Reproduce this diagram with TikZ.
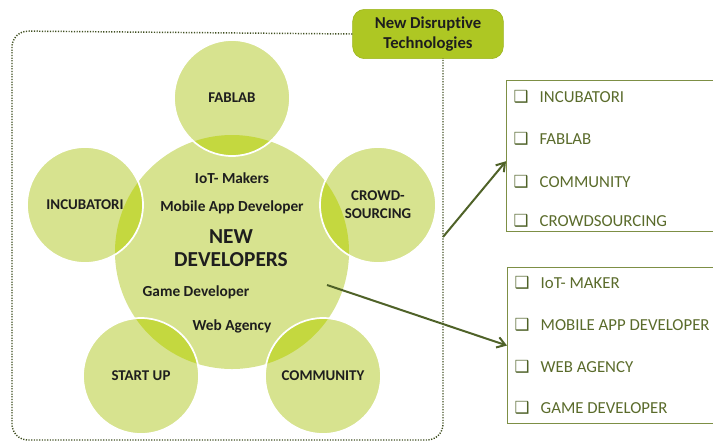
\documentclass[tikz,border=0pt]{standalone}
\usepackage{fontspec}
\setmainfont{Carlito}[RawFeature={-liga;-clig;-calt;-dlig}]
\newfontfamily\boxfont{DejaVu Sans}
\usetikzlibrary{arrows.meta}

\definecolor{leaf}{HTML}{D7E38F}
\definecolor{lens}{HTML}{C4D83F}
\definecolor{lime}{HTML}{AEC723}
\definecolor{limeline}{HTML}{9AB31C}
\definecolor{olive}{HTML}{4F6228}
\definecolor{listline}{HTML}{7D8F45}
\definecolor{listtext}{HTML}{5A6B2B}
\definecolor{ink}{HTML}{1E1E1E}

\tikzset{
  hub/.style={circle, fill=leaf, minimum size=175.5pt, inner sep=0pt},
  bubble/.style={circle, fill=leaf, minimum size=87pt, inner sep=0pt, align=center,
    text=ink, font=\bfseries\fontsize{11.2}{13.5}\selectfont},
  rim/.style={draw=white, line width=1.3pt},
  hubtext/.style={text=ink, font=\bfseries\fontsize{11.5}{13.5}\selectfont},
  frame/.style={draw=olive!80!black, line width=1.1pt, dash pattern=on 0.9pt off 1.1pt, rounded corners=12pt},
  badge/.style={rounded corners=9pt, fill=lime, draw=limeline, minimum width=113pt,
    minimum height=37pt, align=center, text=ink, font=\bfseries\fontsize{12.5}{14.5}\selectfont},
  listbox/.style={draw=listline, line width=0.8pt, minimum width=165pt, minimum height=113pt,
    anchor=north west, inner sep=0pt},
  item/.style={anchor=west, text=listtext, font=\fontsize{12.6}{15}\selectfont},
  tick/.style={anchor=center, text=olive, font=\boxfont\fontsize{12.5}{14}\selectfont},
  link/.style={draw=olive, line width=1.5pt, -{Straight Barb[length=6pt,width=8pt]}}
}

\begin{document}
\begin{tikzpicture}[x=0.75pt, y=-0.75pt]
  \useasboundingbox (0,0) rectangle (713,444);

  % circles
  \node[hub] (hub) at (232,252) {};
  \node[bubble] (fab) at (232,98) {FABLAB};
  \node[bubble] (inc) at (85,205) {INCUBATORI};
  \node[bubble] (crowd) at (378,205) {CROWD-\\SOURCING};
  \node[bubble] (start) at (141,376) {START UP};
  \node[bubble] (comm) at (323,376) {COMMUNITY};

  % overlaps with the middle circle
  \begin{scope}
    \clip (hub.center) circle (87.75pt);
    \foreach \c in {fab,inc,crowd,start,comm}
      \fill[lens] (\c.center) circle (43.5pt);
  \end{scope}
  \foreach \c in {fab,inc,crowd,start,comm}
    \draw[rim] (\c.center) circle (43.5pt);

  % texts in the middle
  \node[hubtext] (iot) at (232,178) {IoT- Makers};
  \node[hubtext] (mobile) at (232,207) {Mobile App Developer};
  \node[hubtext, align=center, font=\bfseries\fontsize{16}{17}\selectfont] (newdev) at (231,248) {NEW\\DEVELOPERS};
  \node[hubtext] (game) at (196,292) {Game Developer};
  \node[hubtext] (web) at (232,326) {Web Agency};

  % dotted frame with its badge
  \node[badge] (badge) at (428,34) {New Disruptive\\Technologies};
  \coordinate (framecut) at (443,58);
  \draw[frame] (badge.west) -- (12,31) -- (12,440) -- (443,440) -- (framecut);

  % lists
  \node[listbox] (listA) at (506,80) {};
  \node[tick] (tA1) at (521,97) {❑};
  \node[item] at (535,97) {INCUBATORI};
  \node[tick] (tA2) at (521,139) {❑};
  \node[item] at (535,139) {FABLAB};
  \node[tick] (tA3) at (521,182) {❑};
  \node[item] at (535,182) {COMMUNITY};
  \node[tick] (tA4) at (521,221) {❑};
  \node[item] at (535,221) {CROWDSOURCING};

  \node[listbox, minimum height=117pt] (listB) at (507,267) {};
  \node[tick] (tB1) at (522,283) {❑};
  \node[item] at (536,283) {IoT- MAKER};
  \node[tick] (tB2) at (522,325) {❑};
  \node[item] at (536,325) {MOBILE APP DEVELOPER};
  \node[tick] (tB3) at (522,367) {❑};
  \node[item] at (536,367) {WEB AGENCY};
  \node[tick] (tB4) at (522,408) {❑};
  \node[item] at (536,408) {GAME DEVELOPER};

  % arrows
  \coordinate (outA) at (443,237);
  \coordinate (outB) at (327,285);
  \draw[link] (outA) -- ([yshift=-4]listA.west);
  \draw[link] (outB) -- (listB.west);
\end{tikzpicture}
\end{document}
